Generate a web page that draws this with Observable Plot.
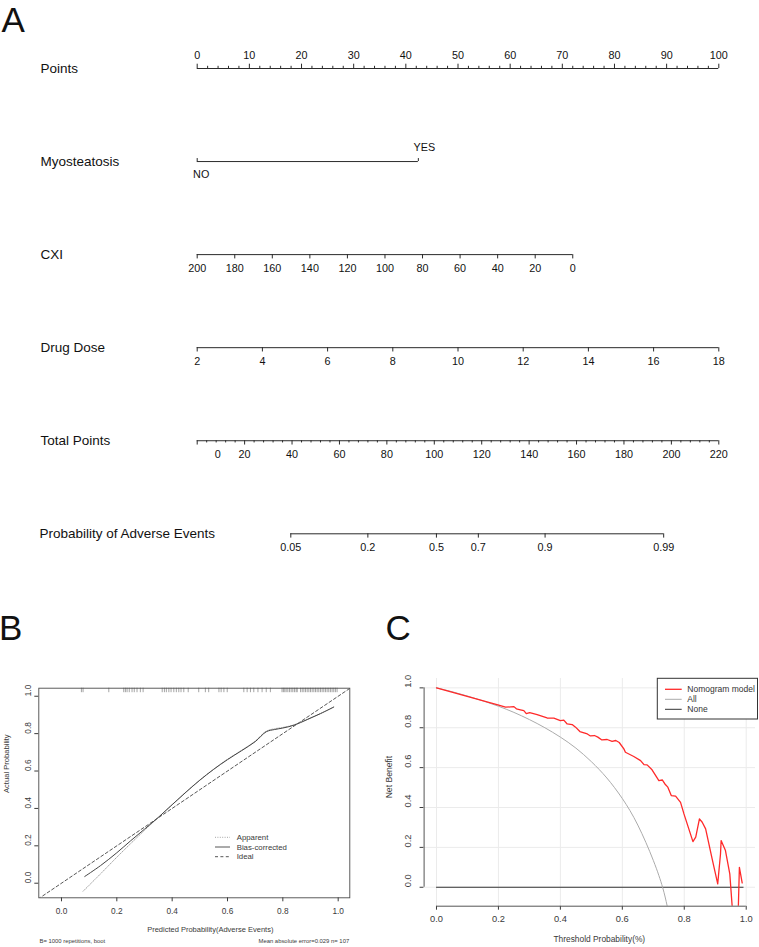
<!DOCTYPE html>
<html>
<head>
<meta charset="utf-8">
<script src="https://cdn.jsdelivr.net/npm/d3@7"></script>
<script src="https://cdn.jsdelivr.net/npm/@observablehq/plot@0.6"></script>
<style>
  body { margin: 0; background: #fff; }
  #fig { position: relative; width: 759px; height: 947px; overflow: hidden;
         font-family: "Liberation Sans", Arial, Helvetica, sans-serif; background: #fff; }
  .tag { position: absolute; font-size: 35px; line-height: 39px; color: #111; }
</style>
</head>
<body>
<div id="fig"></div>
<script>
const FONT = '"Liberation Sans", Arial, Helvetica, sans-serif';

// ---------- Nomogram (A) ----------
const rowNames = ["Points", "Myosteatosis", "CXI", "Drug Dose", "Total Points", "Probability of Adverse Events"];
const pointTicks = [0, 10, 20, 30, 40, 50, 60, 70, 80, 90, 100];
const myoLevels = ["NO", "YES"];
const myoPoints = [0, 42.4];
const cxiTicks = [200, 180, 160, 140, 120, 100, 80, 60, 40, 20, 0];
const doseTicks = [2, 4, 6, 8, 10, 12, 14, 16, 18];
const totalTicks = [0, 20, 40, 60, 80, 100, 120, 140, 160, 180, 200, 220];
const probTicks = [0.05, 0.2, 0.5, 0.7, 0.9, 0.99];

// ---------- Calibration (B) ----------
const calTicks = [0, 0.2, 0.4, 0.6, 0.8, 1.0];
const apparentX = [0.078, 0.141, 0.2, 0.25, 0.3, 0.35, 0.4, 0.45, 0.5, 0.55, 0.6, 0.65, 0.7, 0.74, 0.77, 0.8, 0.84, 0.888, 0.936, 0.984];
const apparentY = [-0.043, 0.05, 0.139, 0.212, 0.283, 0.352, 0.42, 0.488, 0.552, 0.61, 0.663, 0.71, 0.76, 0.813, 0.826, 0.833, 0.847, 0.877, 0.908, 0.943];
const biasX = [0.084, 0.141, 0.2, 0.25, 0.3, 0.35, 0.4, 0.45, 0.5, 0.55, 0.6, 0.65, 0.7, 0.74, 0.77, 0.8, 0.84, 0.888, 0.936, 0.984];
const biasY = [0.036, 0.094, 0.163, 0.227, 0.289, 0.352, 0.42, 0.487, 0.551, 0.609, 0.661, 0.708, 0.757, 0.81, 0.822, 0.83, 0.845, 0.875, 0.907, 0.942];
const idealXY = [-0.1, 1.1];
const rugPred = [0.072, 0.078, 0.171, 0.225, 0.231, 0.237, 0.245, 0.255, 0.263, 0.273, 0.285, 0.295,
  0.364, 0.372, 0.379, 0.388, 0.396, 0.406, 0.415, 0.424, 0.432, 0.442, 0.458, 0.496, 0.520, 0.532,
  0.569, 0.577, 0.587, 0.599, 0.659, 0.671, 0.683, 0.695, 0.710, 0.725, 0.740, 0.755,
  0.797, 0.802, 0.807, 0.812, 0.818, 0.824, 0.830, 0.836, 0.842, 0.848, 0.852,
  0.864, 0.870, 0.876, 0.882, 0.888, 0.894, 0.900, 0.906, 0.912, 0.918, 0.924, 0.930, 0.936,
  0.942, 0.948, 0.954, 0.960, 0.966, 0.972, 0.978, 0.984, 0.990, 0.996];

// ---------- Decision curve (C) ----------
const dcaTicks = [0, 0.2, 0.4, 0.6, 0.8, 1.0];
const nomoThreshold = [0, 0.099, 0.198, 0.223, 0.25, 0.258, 0.271, 0.282, 0.29, 0.301, 0.325, 0.357, 0.379, 0.4, 0.411,
  0.422, 0.438, 0.449, 0.463, 0.487, 0.497, 0.51, 0.521, 0.534, 0.551, 0.567, 0.579, 0.59, 0.605, 0.61, 0.637, 0.659,
  0.67, 0.68, 0.696, 0.718, 0.729, 0.739, 0.747, 0.758, 0.772, 0.788, 0.799, 0.828, 0.837, 0.849, 0.858, 0.869, 0.89,
  0.908, 0.917, 0.919, 0.933, 0.947, 0.962, 0.972, 0.978, 0.987];
const nomoNB = [1.0, 0.957, 0.915, 0.903, 0.906, 0.895, 0.89, 0.886, 0.871, 0.876, 0.866, 0.849, 0.848, 0.836, 0.838,
  0.819, 0.816, 0.803, 0.781, 0.769, 0.759, 0.761, 0.753, 0.739, 0.741, 0.732, 0.736, 0.726, 0.694, 0.677, 0.656, 0.635,
  0.615, 0.614, 0.589, 0.535, 0.538, 0.515, 0.502, 0.46, 0.457, 0.426, 0.368, 0.229, 0.251, 0.343, 0.326, 0.293, 0.142,
  0.017, 0.167, 0.234, 0.184, 0.067, -0.25, -0.25, 0.1, 0.022];
const allThreshold = [0, 0.05, 0.1, 0.15, 0.2, 0.25, 0.3, 0.35, 0.4, 0.45, 0.5, 0.55, 0.6, 0.65, 0.7, 0.73, 0.745, 0.76];
const allNB = [1.0, 0.981, 0.959, 0.935, 0.908, 0.877, 0.841, 0.80, 0.753, 0.698, 0.630, 0.548, 0.445, 0.312, 0.135, 0.0, -0.095, -0.2];
const noneThreshold = [0, 0.99];
const noneNB = [0, 0];

// ---------- model scoring used to lay out the nomogram axes ----------
const cxiPts = v => (200 - v) * 0.36;
const dosePts = v => (v - 2) * 6.25;
const totalToX = t => t * 100 / 220;
const probToTotal = p => 100.9 + 20.86 * Math.log(p / (1 - p));
const probToX = p => totalToX(probToTotal(p));
const row = name => rowNames.indexOf(name);

const fig = document.getElementById("fig");
function place(node, left, top) {
  node.style.position = "absolute";
  node.style.left = left + "px";
  node.style.top = top + "px";
  fig.appendChild(node);
}

// ---------- Panel A ----------
(function () {
  const ink = "#111", lineInk = "#2a2a2a";
  const axes = [
    {r: row("Points"), x1: 0, x2: 100},
    {r: row("Myosteatosis"), x1: myoPoints[0], x2: myoPoints[1]},
    {r: row("CXI"), x1: cxiPts(cxiTicks[0]), x2: cxiPts(cxiTicks[cxiTicks.length - 1])},
    {r: row("Drug Dose"), x1: dosePts(doseTicks[0]), x2: dosePts(doseTicks[doseTicks.length - 1])},
    {r: row("Total Points"), x1: totalToX(totalTicks[0]), x2: totalToX(totalTicks[totalTicks.length - 1])},
    {r: row("Probability of Adverse Events"), x1: probToX(probTicks[0]), x2: probToX(probTicks[probTicks.length - 1])}
  ];
  const pointsMinor = d3.range(0, 101, 2).filter(v => v % 10 !== 0).map(v => ({r: 0, x: v}));
  const totalMinor = d3.range(0, 221, 4).filter(v => v % 20 !== 0).map(v => ({r: row("Total Points"), x: totalToX(v)}));
  const upMajor = pointTicks.map(v => ({r: 0, x: v}));
  const myoTicks = myoPoints.map(v => ({r: row("Myosteatosis"), x: v}));
  const downMajor = [
    ...cxiTicks.map(v => ({r: row("CXI"), x: cxiPts(v)})),
    ...doseTicks.map(v => ({r: row("Drug Dose"), x: dosePts(v)})),
    ...totalTicks.map(v => ({r: row("Total Points"), x: totalToX(v)})),
    ...probTicks.map(v => ({r: row("Probability of Adverse Events"), x: probToX(v)}))
  ];
  const belowLabels = [
    ...cxiTicks.map(v => ({r: row("CXI"), x: cxiPts(v), t: String(v)})),
    ...doseTicks.map(v => ({r: row("Drug Dose"), x: dosePts(v), t: String(v)})),
    ...totalTicks.slice(1).map(v => ({r: row("Total Points"), x: totalToX(v), t: String(v)})),
    ...probTicks.map(v => ({r: row("Probability of Adverse Events"), x: probToX(v), t: String(v)}))
  ];
  const chart = Plot.plot({
    width: 759, height: 585,
    marginLeft: 0, marginRight: 0, marginTop: 0, marginBottom: 0,
    x: {domain: [0, 100], range: [196.7, 718.3], axis: null},
    y: {domain: [0, 5], range: [68, 533.3], axis: null},
    style: {fontFamily: FONT, fontSize: "10.8px", color: ink, background: "transparent"},
    marks: [
      Plot.text(rowNames.slice(0, 5), {y: d => row(d), text: d => d, frameAnchor: "left", textAnchor: "start", dx: 40, fontSize: 13.5, fill: ink}),
      Plot.text(rowNames.slice(5), {y: d => row(d), text: d => d, frameAnchor: "left", textAnchor: "start", dx: 39, fontSize: 13.5, fill: ink}),
      Plot.ruleY(axes, {y: "r", x1: "x1", x2: "x2", stroke: lineInk, strokeWidth: 1}),
      Plot.ruleX(upMajor, {x: "x", y1: "r", y2: "r", insetTop: -4.3, stroke: lineInk}),
      Plot.ruleX(pointsMinor, {x: "x", y1: "r", y2: "r", insetTop: -2.2, stroke: lineInk}),
      Plot.ruleX(myoTicks, {x: "x", y1: "r", y2: "r", insetTop: -3, stroke: lineInk}),
      Plot.ruleX(downMajor, {x: "x", y1: "r", y2: "r", insetBottom: -4.3, stroke: lineInk}),
      Plot.ruleX(totalMinor, {x: "x", y1: "r", y2: "r", insetBottom: -2.2, stroke: lineInk}),
      Plot.text(pointTicks, {x: d => d, y: 0, text: d => String(d), dy: -13, fill: ink}),
      Plot.text(belowLabels, {x: "x", y: "r", text: "t", dy: 13.5, fill: ink}),
      Plot.text([totalTicks[0]], {x: d => totalToX(d), y: row("Total Points"), text: d => String(d), dy: 13.5, dx: 20.5, fill: ink}),
      Plot.text([myoLevels[0]], {x: myoPoints[0], y: row("Myosteatosis"), text: d => d, dy: 13.3, dx: 4, fill: ink}),
      Plot.text([myoLevels[1]], {x: myoPoints[1], y: row("Myosteatosis"), text: d => d, dy: -13.7, dx: 6, fill: ink})
    ]
  });
  place(chart, 0, 0);
})();

// ---------- Panel B ----------
(function () {
  const fmt = d3.format(".1f");
  const apparent = apparentX.map((x, i) => ({x, y: apparentY[i]}));
  const bias = biasX.map((x, i) => ({x, y: biasY[i]}));
  const ideal = idealXY.map(v => ({x: v, y: v}));
  const frameH = 362 - 102.7 - 49.7;
  const chart = Plot.plot({
    width: 379, height: 362,
    marginLeft: 38.3, marginRight: 29.7, marginTop: 102.7, marginBottom: 49.7,
    x: {domain: [-0.082, 1.042], ticks: calTicks, tickSize: 4, tickFormat: () => "", label: null},
    y: {domain: [-0.078, 1.043], ticks: calTicks, tickSize: 4, tickFormat: () => "", label: null},
    style: {fontFamily: FONT, fontSize: "8.3px", color: "#3a3a3a", background: "transparent"},
    marks: [
      Plot.ruleX(rugPred, {x: d => d, insetBottom: frameH - 4.5, stroke: "#666", strokeWidth: 0.7, strokeOpacity: 0.85}),
      Plot.line(ideal, {x: "x", y: "y", stroke: "#444", strokeWidth: 0.9, strokeDasharray: "3,2.4", clip: true}),
      Plot.line(apparent, {x: "x", y: "y", stroke: "#9a9a9a", strokeWidth: 0.9, strokeDasharray: "1,1.4", curve: "catmull-rom"}),
      Plot.line(bias, {x: "x", y: "y", stroke: "#444", strokeWidth: 1, curve: "catmull-rom"}),
      Plot.frame({stroke: "#4a4a4a", strokeWidth: 0.9}),
      Plot.text(calTicks, {x: d => d, frameAnchor: "bottom", dy: 16, text: d => fmt(d)}),
      Plot.text(calTicks, {y: d => d, frameAnchor: "left", dx: -10, rotate: -90, text: d => fmt(d)}),
      Plot.text(["Predicted Probability(Adverse Events)"], {frameAnchor: "bottom", dy: 34.4, dx: 16, fontSize: 7.5}),
      Plot.text(["Actual Probability"], {frameAnchor: "left", dx: -32, rotate: -90, fontSize: 7.6}),
      Plot.text(["B= 1000 repetitions, boot"], {frameAnchor: "bottom-left", textAnchor: "start", dx: 0.7, dy: 45.4, fontSize: 5.9}),
      Plot.text(["Mean absolute error=0.029 n= 107"], {frameAnchor: "bottom-right", textAnchor: "end", dx: -0.6, dy: 45.4, fontSize: 5.9})
    ]
  });
  place(chart, 0, 585);
})();

// ---------- Panel C ----------
(function () {
  const fmt = d3.format(".1f");
  const yDom = [-0.095, 1.047];
  const nomo = nomoThreshold.map((x, i) => ({x, y: nomoNB[i]}));
  const all = allThreshold.map((x, i) => ({x, y: allNB[i]}));
  const none = noneThreshold.map((x, i) => ({x, y: noneNB[i]}));
  const chart = Plot.plot({
    width: 380, height: 362,
    marginLeft: 44.6, marginRight: 4, marginTop: 93, marginBottom: 41.3,
    x: {domain: [-0.04, 1.03], ticks: dcaTicks, tickSize: 4, tickFormat: () => "", label: null},
    y: {domain: yDom, ticks: dcaTicks, tickSize: 4, tickFormat: () => "", label: null},
    style: {fontFamily: FONT, fontSize: "9.3px", color: "#3a3a3a", background: "transparent"},
    marks: [
      Plot.ruleX(dcaTicks, {x: d => d, stroke: "#ebebeb", strokeWidth: 1}),
      Plot.ruleY(dcaTicks, {y: d => d, stroke: "#ebebeb", strokeWidth: 1}),
      Plot.line(none, {x: "x", y: "y", stroke: "#333", strokeWidth: 1}),
      Plot.line(all, {x: "x", y: "y", stroke: "#ababab", strokeWidth: 1, curve: "natural", clip: true}),
      Plot.line(nomo, {x: "x", y: "y", stroke: "#ff2a2a", strokeWidth: 1.3, clip: true}),
      Plot.ruleY([yDom[0]], {x1: dcaTicks[0], x2: dcaTicks[dcaTicks.length - 1], stroke: "#555"}),
      Plot.ruleX([-0.04], {y1: dcaTicks[0], y2: dcaTicks[dcaTicks.length - 1], stroke: "#555"}),
      Plot.text(dcaTicks, {x: d => d, frameAnchor: "bottom", dy: 16, text: d => fmt(d)}),
      Plot.text(dcaTicks, {y: d => d, frameAnchor: "left", dx: -15.6, rotate: -90, text: d => fmt(d)}),
      Plot.text(["Threshold Probability(%)"], {frameAnchor: "bottom", dy: 36, dx: 9.5, fontSize: 8.4}),
      Plot.text(["Net Benefit"], {frameAnchor: "left", dx: -35.3, dy: 6, rotate: -90, fontSize: 8.6})
    ]
  });
  place(chart, 379, 585);
})();

// ---------- legends and panel tags ----------
(function () {
  const svg = d3.create("svg").attr("width", 759).attr("height", 947)
    .style("font-family", FONT);
  // calibration legend
  const legB = [
    {label: "Apparent", stroke: "#9a9a9a", dash: "1,1.4"},
    {label: "Bias-corrected", stroke: "#444", dash: null},
    {label: "Ideal", stroke: "#444", dash: "3,2.4"}
  ];
  legB.forEach((d, i) => {
    const y = 837.3 + i * 9.7;
    svg.append("line").attr("x1", 215).attr("x2", 230).attr("y1", y).attr("y2", y)
      .attr("stroke", d.stroke).attr("stroke-width", 0.9).attr("stroke-dasharray", d.dash);
    svg.append("text").attr("x", 236.7).attr("y", y).attr("dy", "0.35em")
      .attr("font-size", 7.8).attr("fill", "#3a3a3a").text(d.label);
  });
  // decision-curve legend
  svg.append("rect").attr("x", 657.3).attr("y", 678.3).attr("width", 100.2).attr("height", 40.7)
    .attr("fill", "#fff").attr("stroke", "#333").attr("stroke-width", 1);
  const legC = [
    {label: "Nomogram model", stroke: "#ff2a2a", w: 1.3},
    {label: "All", stroke: "#ababab", w: 1},
    {label: "None", stroke: "#333", w: 1}
  ];
  legC.forEach((d, i) => {
    const y = 689.3 + i * 10;
    svg.append("line").attr("x1", 665).attr("x2", 681.7).attr("y1", y).attr("y2", y)
      .attr("stroke", d.stroke).attr("stroke-width", d.w);
    svg.append("text").attr("x", 687.3).attr("y", y).attr("dy", "0.35em")
      .attr("font-size", 8.5).attr("fill", "#333").text(d.label);
  });
  const node = svg.node();
  node.style.pointerEvents = "none";
  place(node, 0, 0);

  [["A", 1.5, 0], ["B", -1, 608.4], ["C", 385.5, 608.4]].forEach(([t, l, tp]) => {
    const div = document.createElement("div");
    div.className = "tag";
    div.textContent = t;
    place(div, l, tp);
  });
})();
</script>
</body>
</html>
